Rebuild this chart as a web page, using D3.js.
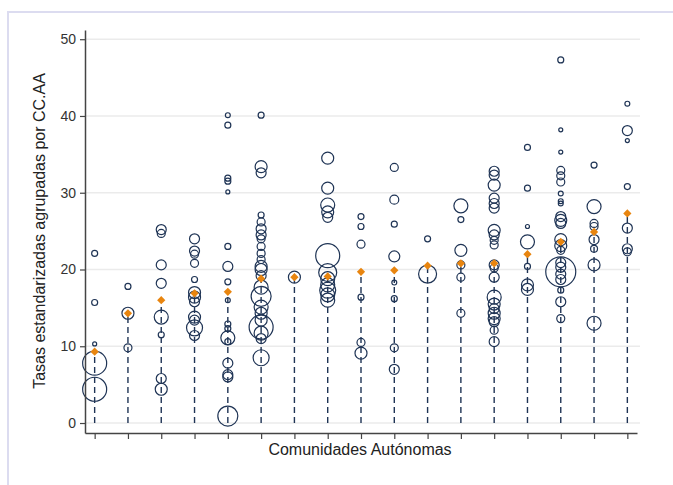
<!DOCTYPE html>
<html>
<head>
<meta charset="utf-8">
<script src="https://cdn.jsdelivr.net/npm/d3@7"></script>
<style>
  body { margin: 0; background: #fff; }
  svg { display: block; font-family: Arial, "Liberation Sans", sans-serif; }
</style>
</head>
<body>
<svg id="chart" width="673" height="485"></svg>
<script>
// 17 comunidades, ordenadas por la tasa media
const comunidades = d3.range(1, 18).map(String);

// tasa media de cada comunidad (rombo naranja)
const medias = [9.3, 14.3, 16.0, 16.9, 17.1, 18.8, 19.0, 19.1, 19.7, 19.9, 20.5, 20.8, 20.8, 22.0, 23.6, 24.9, 27.3];

// tasas estandarizadas de cada área, por comunidad
const tasas = [
  [22.1, 15.7, 10.3, 7.8, 4.4],
  [17.8, 14.3, 9.8],
  [25.2, 24.7, 20.6, 18.2, 13.8, 11.5, 5.8, 4.4],
  [24.0, 22.4, 22.0, 20.8, 18.7, 17.0, 16.4, 15.8, 13.8, 13.4, 12.4, 11.4],
  [40.1, 38.8, 31.9, 31.5, 30.1, 23.0, 20.4, 18.4, 16.0, 12.9, 12.3, 11.1, 10.6, 7.8, 6.3, 6.0, 0.9],
  [40.1, 33.4, 32.6, 27.1, 26.2, 25.3, 24.5, 24.0, 23.0, 22.1, 21.3, 20.4, 20.0, 19.2, 17.7, 16.5, 15.1, 14.3, 13.4, 12.5, 11.7, 11.0, 8.5],
  [19.0],
  [34.5, 30.6, 28.4, 27.5, 26.8, 21.8, 19.6, 18.8, 18.0, 17.3, 16.7, 16.0],
  [26.9, 25.6, 23.3, 16.4, 10.5, 9.1],
  [33.3, 29.1, 25.9, 21.7, 18.3, 16.2, 9.8, 7.0],
  [24.0, 19.4],
  [28.3, 26.5, 22.5, 20.6, 19.0, 14.3],
  [32.8, 32.3, 31.0, 29.3, 28.6, 28.0, 25.1, 24.5, 23.8, 23.2, 20.6, 20.2, 19.0, 16.4, 15.5, 14.9, 14.3, 13.6, 13.2, 12.1, 10.6],
  [35.9, 30.6, 25.6, 23.6, 20.4, 18.0, 17.4],
  [47.3, 38.2, 35.3, 32.9, 32.2, 31.4, 29.9, 28.9, 28.6, 26.9, 26.4, 26.0, 23.9, 23.1, 22.5, 20.9, 20.3, 19.7, 19.4, 18.7, 17.3, 15.8, 13.6],
  [33.6, 28.2, 26.0, 25.6, 23.9, 22.7, 20.6, 13.0],
  [41.6, 38.1, 36.8, 30.8, 25.4, 22.7, 22.3]
];

// peso (población) de cada área, da el tamaño del círculo
const pesos = [
  [9, 9, 4, 144, 144],
  [9, 36, 16],
  [25, 16, 25, 25, 49, 9, 25, 36],
  [25, 25, 16, 16, 9, 36, 36, 25, 36, 25, 64, 25],
  [6, 9, 9, 9, 4, 9, 25, 9, 6, 9, 9, 49, 9, 25, 25, 25, 100],
  [9, 36, 25, 9, 16, 25, 25, 16, 16, 16, 16, 36, 36, 25, 49, 100, 49, 36, 36, 144, 49, 25, 64],
  [36],
  [36, 36, 49, 36, 25, 144, 81, 49, 49, 64, 49, 49],
  [9, 9, 16, 9, 16, 36],
  [16, 20, 9, 30, 6, 9, 16, 25],
  [9, 81],
  [49, 9, 36, 16, 16, 16],
  [25, 25, 36, 25, 25, 25, 36, 25, 16, 16, 25, 16, 25, 49, 36, 25, 36, 36, 25, 16, 25],
  [9, 9, 4, 49, 9, 36, 36],
  [9, 4, 4, 16, 16, 16, 6, 6, 6, 25, 36, 25, 36, 36, 16, 25, 25, 225, 25, 25, 9, 25, 16],
  [9, 49, 16, 16, 25, 12, 36, 49],
  [6, 25, 4, 9, 25, 25, 16]
];

const yTicks = [0, 10, 20, 30, 40, 50];

const svg = d3.select('#chart');
const navy = '#1f3455';
const orange = '#e8850f';

// marco exterior
svg.append('rect')
  .attr('x', 8).attr('y', 12)
  .attr('width', 700).attr('height', 500)
  .attr('fill', 'none')
  .attr('stroke', '#dcdcf0')
  .attr('stroke-width', 2);

const x = d3.scalePoint()
  .domain(comunidades)
  .range([85, 637])
  .padding(0.29);

const y = d3.scaleLinear()
  .domain([-1.3, 51.2])
  .range([433, 30]);

const r = d3.scaleSqrt()
  .domain([0, 225])
  .range([0, 15]);

// rejilla
svg.append('g')
  .selectAll('line')
  .data(yTicks)
  .enter()
  .append('line')
  .attr('x1', 86)
  .attr('x2', 640)
  .attr('y1', (d) => y(d))
  .attr('y2', (d) => y(d))
  .attr('stroke', '#ebebeb')
  .attr('stroke-width', 1.5);

// líneas discontinuas hasta la media
svg.append('g')
  .selectAll('line')
  .data(comunidades)
  .enter()
  .append('line')
  .attr('x1', (d) => x(d))
  .attr('x2', (d) => x(d))
  .attr('y1', y(0))
  .attr('y2', (d, i) => y(medias[i]))
  .attr('stroke', navy)
  .attr('stroke-width', 1.4)
  .attr('stroke-dasharray', '6,4');

// círculos por área
const puntos = [];
tasas.forEach((col, i) => {
  col.forEach((t, j) => puntos.push({ c: comunidades[i], t, p: pesos[i][j] }));
});

svg.append('g')
  .selectAll('circle')
  .data(puntos)
  .enter()
  .append('circle')
  .attr('cx', (d) => x(d.c))
  .attr('cy', (d) => y(d.t))
  .attr('r', (d) => r(d.p))
  .attr('fill', 'none')
  .attr('stroke', navy)
  .attr('stroke-width', 1.2);

// medias
svg.append('g')
  .selectAll('path')
  .data(medias)
  .enter()
  .append('path')
  .attr('d', d3.symbol().type(d3.symbolSquare).size(34))
  .attr('transform', (d, i) => `translate(${x(comunidades[i])},${y(d)}) rotate(45)`)
  .attr('fill', orange);

// ejes
const yAxis = svg.append('g')
  .attr('transform', 'translate(85,0)')
  .call(d3.axisLeft(y).tickValues(yTicks).tickSize(5).tickSizeOuter(0).tickPadding(4));

const xAxis = svg.append('g')
  .attr('transform', 'translate(0,433)')
  .call(d3.axisBottom(x).tickSize(6).tickSizeOuter(0).tickFormat(''));

[yAxis, xAxis].forEach((g) => {
  g.select('.domain').attr('stroke', '#444').attr('stroke-width', 1.5);
  g.selectAll('.tick line').attr('stroke', '#444').attr('stroke-width', 1.2);
  g.selectAll('.tick text').attr('fill', '#333').attr('font-size', 14);
});

// títulos
svg.append('text')
  .attr('x', 360)
  .attr('y', 455)
  .attr('text-anchor', 'middle')
  .attr('font-size', 16)
  .attr('fill', '#222')
  .text('Comunidades Autónomas');

svg.append('text')
  .attr('transform', 'translate(45,231) rotate(-90)')
  .attr('text-anchor', 'middle')
  .attr('font-size', 16)
  .attr('fill', '#222')
  .text('Tasas estandarizadas agrupadas por CC.AA');
</script>
</body>
</html>
